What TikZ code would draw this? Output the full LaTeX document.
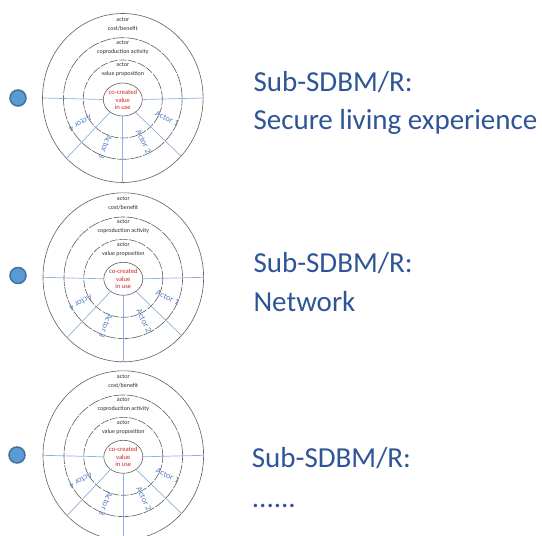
\documentclass[tikz,border=0pt]{standalone}
\usepackage{fontspec}
\setmainfont{Carlito}
\usetikzlibrary{shapes.geometric}

\definecolor{headblue}{RGB}{47,85,151}
\definecolor{actorblue}{RGB}{84,130,196}
\definecolor{spokeblue}{RGB}{143,176,222}
\definecolor{ringgray}{RGB}{95,95,95}
\definecolor{valuered}{RGB}{210,35,35}
\definecolor{labelgray}{RGB}{45,45,45}
\definecolor{bulletfill}{RGB}{91,155,213}
\definecolor{bulletedge}{RGB}{65,113,156}

\tikzset{
  ringbase/.style={ellipse, draw=ringgray, line width=0.6bp, inner sep=0pt, outer sep=0pt},
  outerring/.style={ringbase, minimum width=160.6bp, minimum height=169bp},
  coproring/.style={ringbase, dash pattern=on 12bp off 1.2bp, minimum width=118.6bp, minimum height=121.6bp},
  propring/.style={ringbase, dash pattern=on 8bp off 1.6bp, minimum width=79bp, minimum height=78bp},
  corering/.style={ringbase, minimum width=39bp, minimum height=33bp},
  spoke/.style={draw=spokeblue, line width=0.7bp},
  tiny/.style={inner sep=0pt, align=center, text=labelgray,
    font=\fontsize{6bp}{9bp}\selectfont},
  corelbl/.style={inner sep=0pt, align=center, text=valuered,
    font=\fontsize{6.6bp}{7.5bp}\selectfont},
  actorlbl/.style={inner sep=0pt, text=actorblue, font=\fontsize{8.5bp}{9bp}\selectfont},
  bullet/.style={circle, fill=bulletfill, draw=bulletedge, line width=1.5bp,
    minimum size=16bp, inner sep=0pt},
  head/.style={anchor=base west, inner sep=0pt, text=headblue,
    font=\fontsize{29bp}{35bp}\selectfont},
  sdbm/.pic={
    \node[outerring] (-outer) at (0,0) {};
    \node[coproring] (-copro) at (0,0.5) {};
    \node[propring]  (-prop)  at (0,1) {};
    \node[corering]  (-core)  at (0,1.5) {};
    % spokes dividing the actor sectors
    \draw[spoke] (-core.west) -- (-outer.west);
    \draw[spoke] (-core.east) -- (-outer.east);
    \draw[spoke] (-core.south) -- (-outer.south);
    \draw[spoke] (-core.-45) -- (-outer.-45);
    \draw[spoke] (-core.-135) -- (-outer.-133);
    % layer labels
    \node[tiny] (-cost) at (0,-74.2) {actor\\cost/benefit};
    \node[tiny] (-act)  at (0,-50.8) {actor\\coproduction activity};
    \node[tiny] (-val)  at (0,-28.2) {actor\\value proposition};
    \node[corelbl] (-cc) at (0,1.9) {co-created\\value\\in use};
    % actors, written outward along each sector
    \node[actorlbl, rotate=-25]  (-a1) at (44.2,20.3)  {Actor 1};
    \node[actorlbl, rotate=-64]  (-a2) at (20.8,43.7)  {Actor 2};
    \node[actorlbl, rotate=-110] (-a3) at (-17.5,48.7) {Actor 3};
    \node[actorlbl, rotate=-150] (-a4) at (-42.5,25.3) {Actor 4};
  }
}

\begin{document}
\begin{tikzpicture}[x=1bp, y=-1bp]
  \useasboundingbox (0,0) rectangle (542,536);
  \clip (0,0) rectangle (542,536);

  \node[bullet] (b1) at (18,98) {};
  \node[bullet] (b2) at (18,275.5) {};
  \node[bullet] (b3) at (17,455) {};

  \pic (d1) at (122.8,98) {sdbm};
  \pic (d2) at (123.3,277.3) {sdbm};
  \pic (d3) at (123.3,455.3) {sdbm};

  \node[head] (h1a) at (253.3,91.7)  {Sub-SDBM/R:};
  \node[head] (h1b) at (253.3,129.3) {Secure living experience};
  \node[head] (h2a) at (253.3,272.3) {Sub-SDBM/R:};
  \node[head] (h2b) at (253.3,311)   {Network};
  \node[head] (h3a) at (251.7,467.7) {Sub-SDBM/R:};
  \node[head] (h3b) at (251.7,507.7) {......};
\end{tikzpicture}
\end{document}
